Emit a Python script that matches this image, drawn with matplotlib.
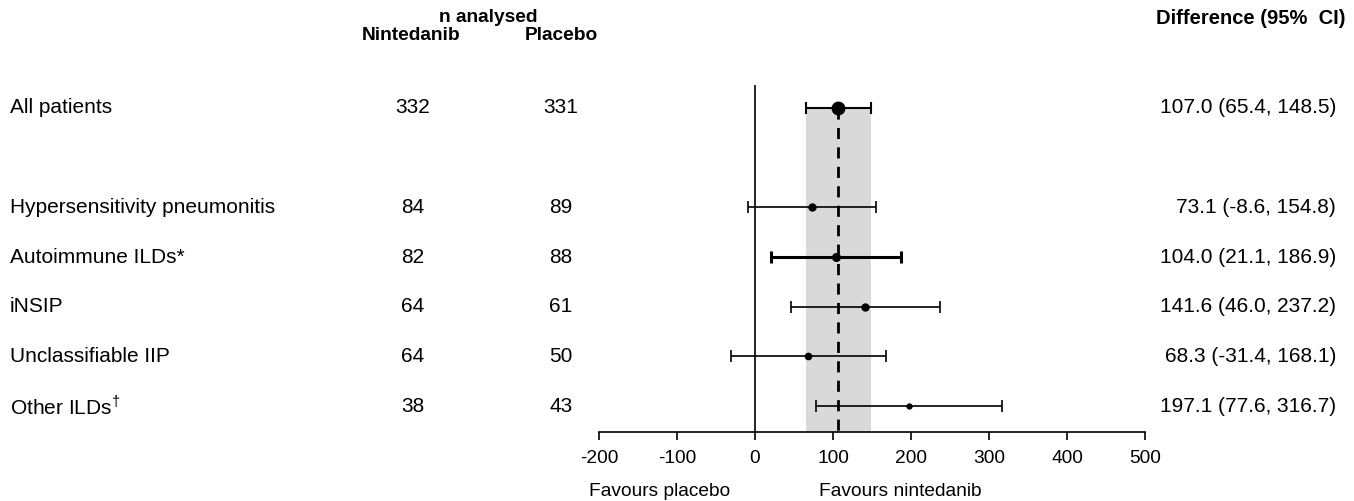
import matplotlib
matplotlib.use('Agg')
import matplotlib.pyplot as plt
import matplotlib.transforms as mtransforms

import numpy as np

# Subgroup data.
labels = ['All patients', 'Hypersensitivity pneumonitis', 'Autoimmune ILDs*',
          'iNSIP', 'Unclassifiable IIP', r'Other ILDs$^{\dagger}$']
rows = [0, 2, 3, 4, 5, 6]
n_nintedanib = [332, 84, 82, 64, 64, 38]
n_placebo = [331, 89, 88, 61, 50, 43]
estimate = [107.0, 73.1, 104.0, 141.6, 68.3, 197.1]
ci_low = [65.4, -8.6, 21.1, 46.0, -31.4, 77.6]
ci_high = [148.5, 154.8, 186.9, 237.2, 168.1, 316.7]
xticks = [-200, -100, 0, 100, 200, 300, 400, 500]

plt.rcParams['font.family'] = ['Liberation Sans', 'DejaVu Sans']
plt.rcParams['mathtext.fontset'] = 'custom'
plt.rcParams['mathtext.rm'] = 'Liberation Sans'
fs = 15
fs_small = 13.8

W, H = 1354, 501
fig = plt.figure(figsize=(W / 100, H / 100), dpi=100)
ax = fig.add_axes([599 / W, 1 - 432 / H, 546 / W, 347 / H])
ybot, ytop = 6.52, -0.46

# Overall CI band and overall estimate line, from the overall row down.
ax.fill_betweenx([rows[0], ybot], ci_low[0], ci_high[0], color='#d9d9d9', zorder=0, lw=0)
ax.vlines(estimate[0], rows[0], ybot, color='black', ls=(0, (4, 3)), lw=2, zorder=1)
ax.axvline(0, color='black', lw=1.2, zorder=1)

widths = [1.5, 1.2, 2.2, 1.2, 1.2, 1.2]
msizes = [9, 5, 5.5, 5, 4.5, 3.5]
for i in range(len(rows)):
    ax.errorbar(estimate[i], rows[i],
                xerr=[[estimate[i] - ci_low[i]], [ci_high[i] - estimate[i]]],
                fmt='o', color='black', ms=msizes[i], elinewidth=widths[i],
                capsize=4, capthick=widths[i], zorder=3)

ax.set_xlim(-200, 500)
ax.set_ylim(ybot, ytop)
ax.set_xticks(xticks)
ax.set_xticklabels([str(t) for t in xticks], fontsize=fs_small)
ax.set_yticks([])
for s in ['top', 'right', 'left']:
    ax.spines[s].set_visible(False)
ax.spines['bottom'].set_linewidth(1.2)
ax.tick_params(axis='x', direction='out', length=6, width=1.2, pad=7)

# Table columns.
tr = mtransforms.blended_transform_factory(fig.transFigure, ax.transData)
for i in range(len(rows)):
    y = rows[i]
    fig.text(10 / W, y, labels[i], transform=tr, ha='left', va='center', fontsize=fs)
    fig.text(413 / W, y, str(n_nintedanib[i]), transform=tr, ha='center', va='center', fontsize=fs)
    fig.text(561 / W, y, str(n_placebo[i]), transform=tr, ha='center', va='center', fontsize=fs)
    fig.text(1336 / W, y, '%.1f (%.1f, %.1f)' % (estimate[i], ci_low[i], ci_high[i]),
             transform=tr, ha='right', va='center', fontsize=fs)

# Headers.
fig.text(488 / W, 1 - 17 / H, 'n analysed', ha='center', va='center', fontsize=fs_small, fontweight='bold')
fig.text(411 / W, 1 - 36 / H, 'Nintedanib', ha='center', va='center', fontsize=fs_small, fontweight='bold')
fig.text(561 / W, 1 - 36 / H, 'Placebo', ha='center', va='center', fontsize=fs_small, fontweight='bold')
fig.text(1345 / W, 1 - 18 / H, 'Difference (95%  CI)', ha='right', va='center', fontsize=14.5, fontweight='bold')

# Direction labels.
trb = mtransforms.blended_transform_factory(ax.transData, fig.transFigure)
fig.text(-122, 1 - 491 / H, 'Favours placebo', transform=trb, ha='center', va='center', fontsize=fs_small)
fig.text(186, 1 - 491 / H, 'Favours nintedanib', transform=trb, ha='center', va='center', fontsize=fs_small)

fig.savefig('out.png', dpi=100)
